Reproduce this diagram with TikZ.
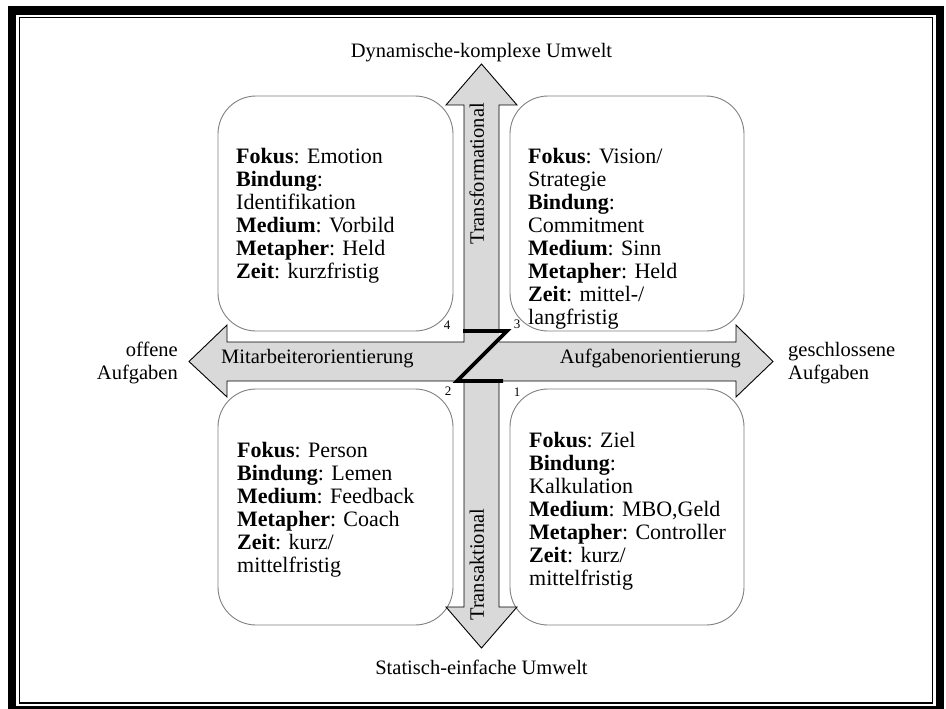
\documentclass[tikz,border=0pt]{standalone}
\usepackage{fontspec}
\setmainfont{Liberation Serif}
\begin{document}
\begin{tikzpicture}[x=1pt,y=-1pt,
  every node/.style={inner sep=0pt,font=\fontsize{20.5}{23}\selectfont},
  quad/.style={draw=black!50,line width=0.9pt,rounded corners=38pt,fill=white},
  boxtext/.style={anchor=north west,align=left,font=\fontsize{22}{23}\selectfont},
  arrowfill/.style={fill=black!15},
  arrowline/.style={draw=black,line width=0.9pt,line join=miter},
  zline/.style={draw=black,line width=3.6pt,line join=miter},
  cornernum/.style={font=\fontsize{13}{15}\selectfont}]
\useasboundingbox (0,0) rectangle (946,709);
% frame
\fill[black] (8,6) rectangle (944,15);
\fill[black] (8,6) rectangle (16,709);
\fill[black] (936,6) rectangle (944,709);
\fill[black] (8,706) rectangle (944,709);
\draw[line width=1.8pt] (19.5,17.5) rectangle (932.5,703);
% boxes
\draw[quad] (218,96) rectangle (453,331);
\draw[quad] (510,96) rectangle (744,331);
\draw[quad] (218,389) rectangle (453,625);
\draw[quad] (510,389) rectangle (744,625);
% cross arrow
\path[arrowfill] (481.5,64) -- (517,105) -- (499,105) -- (499,342) -- (736,342) -- (736,325) -- (773,361.5) -- (736,397) -- (736,381) -- (499,381) -- (499,607) -- (517,607) -- (481.5,648) -- (446,607) -- (464,607) -- (464,381) -- (227,381) -- (227,397) -- (189,361.5) -- (227,325) -- (227,342) -- (464,342) -- (464,105) -- (446,105) -- cycle;
\draw[arrowline] (457,381) -- (227,381) -- (227,397) -- (189,361.5) -- (227,325) -- (227,342) -- (464,342) -- (464,105) -- (446,105) -- (481.5,64) -- (517,105) -- (499,105) -- (499,331);
\draw[arrowline] (499,342) -- (736,342) -- (736,325) -- (773,361.5) -- (736,397) -- (736,381) -- (499,381) -- (499,607) -- (517,607) -- (481.5,648) -- (446,607) -- (464,607) -- (464,381);
\coordinate (z1) at (463,331);
\coordinate (z2) at (507,331);
\coordinate (z3) at (457,381);
\coordinate (z4) at (503,381);
\draw[zline] (z1) -- (z2) -- (z3) -- (z4);
% arrow labels
\node[rotate=90,anchor=mid east] (trf) at (481.5,103) {Transformational};
\node[rotate=90,anchor=mid west] (trk) at (481.5,621) {Transaktional};
\node[anchor=mid west] (mit) at (221,361.5) {Mitarbeiterorientierung};
\node[anchor=mid east] (auf) at (741,361.5) {Aufgabenorientierung};
% outer labels
\node (top) at (481.5,53) {Dynamische-komplexe Umwelt};
\node (bot) at (481.5,667) {Statisch-einfache Umwelt};
\node[align=right,anchor=east] (off) at (178,363) {offene\\Aufgaben};
\node[align=left,anchor=west] (ges) at (788,363) {geschlossene\\Aufgaben};
% corner numbers
\node[cornernum] (n4) at (447,325) {4};
\node[cornernum] (n3) at (517,324) {3};
\node[cornernum] (n2) at (448,391) {2};
\node[cornernum] (n1) at (517,392) {1};
% box texts
\node[boxtext] (tl) at (236,148) {\textbf{Fokus}: Emotion\\\textbf{Bindung}:\\Identifikation\\\textbf{Medium}: Vorbild\\\textbf{Metapher}: Held\\\textbf{Zeit}: kurzfristig};
\node[boxtext] (tr) at (528,148) {\textbf{Fokus}: Vision/\\Strategie\\\textbf{Bindung}:\\Commitment\\\textbf{Medium}: Sinn\\\textbf{Metapher}: Held\\\textbf{Zeit}: mittel-/\\langfristig};
\node[boxtext] (bl) at (237,442) {\textbf{Fokus}: Person\\\textbf{Bindung}: Lemen\\\textbf{Medium}: Feedback\\\textbf{Metapher}: Coach\\\textbf{Zeit}: kurz/\\mittelfristig};
\node[boxtext] (br) at (529,432) {\textbf{Fokus}: Ziel\\\textbf{Bindung}:\\Kalkulation\\\textbf{Medium}: MBO,Geld\\\textbf{Metapher}: Controller\\\textbf{Zeit}: kurz/\\mittelfristig};
\end{tikzpicture}
\end{document}
